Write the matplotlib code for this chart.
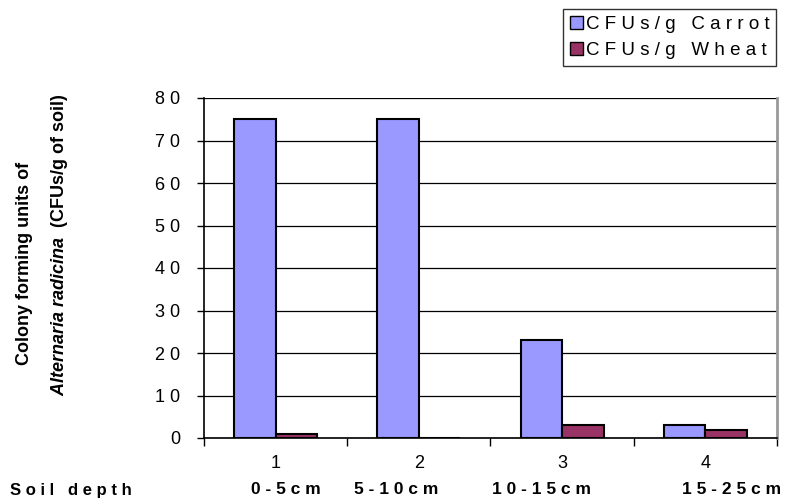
import matplotlib.pyplot as plt
import numpy as np
from matplotlib.patches import Patch

# dados
profundidade = ["1", "2", "3", "4"]
faixas = ["0-5cm", "5-10cm", "10-15cm", "15-25cm"]
cenoura = [75, 75, 23, 3]
trigo = [1, 0, 3, 2]
series = ["CFUs/g Carrot", "CFUs/g Wheat"]

def espacar(txt):
    # espaçamento entre letras, estilo planilha
    return " ".join(txt)

plt.rcParams['font.family'] = ['Liberation Sans', 'DejaVu Sans']
plt.rcParams['mathtext.fontset'] = 'custom'
plt.rcParams['mathtext.it'] = 'Liberation Sans:bold:italic'

fig = plt.figure(figsize=(7.94, 5.04), dpi=100)
ax = fig.add_axes([204/794, 66/504, 573/794, 340/504])

x = np.arange(len(profundidade))
w = 0.29
ax.bar(x - w/2, cenoura, w, color="#9999FF", edgecolor="black", linewidth=1.5, zorder=3)
ax.bar(x + w/2, trigo, w, color="#993366", edgecolor="black", linewidth=1.5, zorder=3)

ax.set_xlim(-0.5, len(profundidade) - 0.5)
ax.set_ylim(0, 80)
ax.set_yticks(range(0, 81, 10))
ax.set_yticklabels([espacar(str(v)) for v in range(0, 81, 10)], fontsize=13)
ax.yaxis.grid(True, color="black", linewidth=0.9, zorder=0)

ax.set_xticks(np.arange(-0.5, len(profundidade)))
ax.set_xticklabels([])
ax.tick_params(axis="x", direction="out", length=6, width=1)
ax.tick_params(axis="y", direction="out", length=5, width=1, pad=12)

ax.spines["top"].set_visible(False)
ax.spines["right"].set_color("#999999")
ax.spines["right"].set_linewidth(2)
ax.spines["left"].set_linewidth(1.2)
ax.spines["bottom"].set_linewidth(1.2)

# numeros das categorias
for i, p in enumerate(profundidade):
    ax.text(i, -0.075, p, transform=ax.get_xaxis_transform(), ha="center", va="center",
            fontsize=13, family=["Liberation Sans Narrow", "Liberation Sans"])

# faixas de profundidade
pos_faixa = [286, 396, 541, 732]
for f, px in zip(faixas, pos_faixa):
    fig.text(px/794, 1 - 490/504, espacar(f), ha="center", va="center",
             fontsize=12.5, fontweight="bold")
fig.text(10/794, 1 - 490/504, espacar("Soil depth"), ha="left", va="center",
         fontsize=12, fontweight="bold")

# titulo do eixo y
fig.text(25/794, 1 - 263/504, "Colony forming units of", rotation=90,
         ha="center", va="center", fontsize=13, fontweight="bold")
fig.text(60/794, 1 - 245/504, r"$Alternaria\ radicina$  (CFUs/g of soil)",
         rotation=90, ha="center", va="center", fontsize=13, fontweight="bold")

# legenda
alca = [Patch(facecolor="#9999FF", edgecolor="black"),
        Patch(facecolor="#993366", edgecolor="black")]
leg = fig.legend(alca, [espacar(s) for s in series], loc="upper right",
                 bbox_to_anchor=(776/794, 1 - 9/504), fontsize=13.5, frameon=True,
                 fancybox=False, edgecolor="black", handlelength=0.7, handleheight=0.7,
                 handletextpad=0.15, borderpad=0.35, labelspacing=0.5, borderaxespad=0)
leg.get_frame().set_linewidth(1)

fig.savefig("out.png", dpi=100)
